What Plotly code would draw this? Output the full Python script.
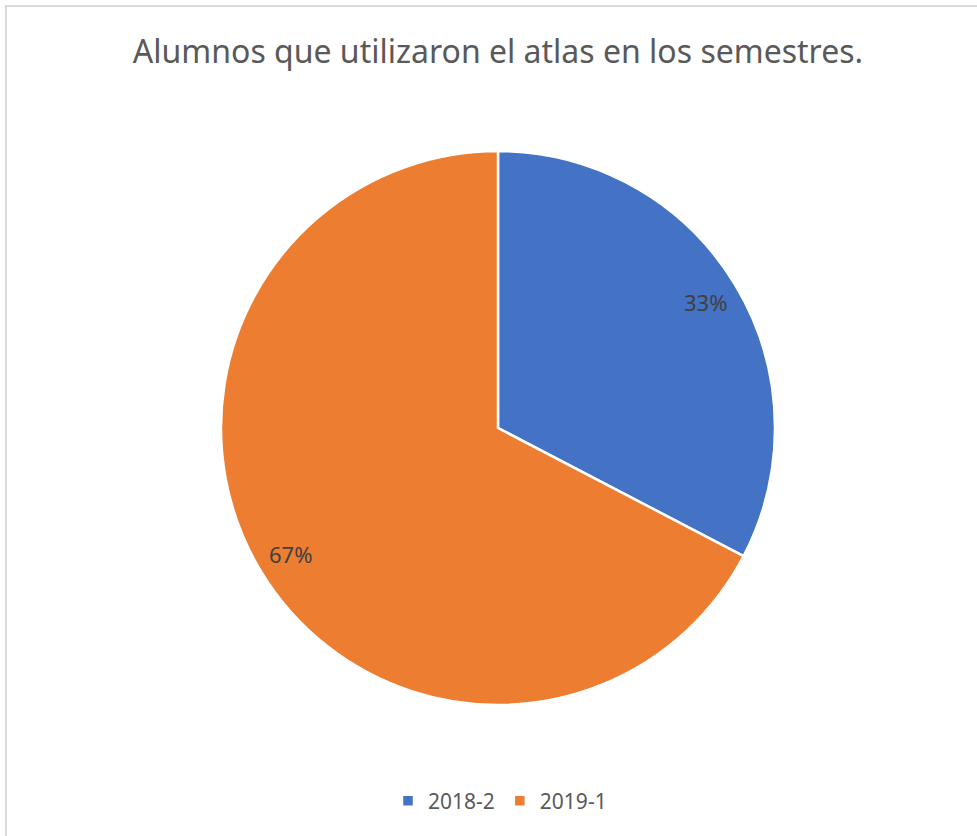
import numpy as np
import plotly.graph_objects as go

W, H = 977, 836

semestres = ["2018-2", "2019-1"]
alumnos = [16, 33]
colores = ["#4472C4", "#ED7D31"]

titulo = "Alumnos que utilizaron el atlas en los semestres."

# pie placement (pixels in the page)
cx, cy, rad = 498, 428, 277

fig = go.Figure()

fig.add_trace(
    go.Pie(
        labels=semestres,
        values=alumnos,
        marker=dict(colors=colores, line=dict(color="white", width=2.5)),
        sort=False,
        direction="clockwise",
        rotation=0,
        textinfo="none",
        hoverinfo="label+percent",
        domain=dict(x=[(cx - rad) / W, (cx + rad) / W], y=[1 - (cy + rad) / H, 1 - (cy - rad) / H]),
    )
)

# percentage labels placed like Excel, near the outer part of each slice
vals = np.array(alumnos, dtype=float)
frac = vals / vals.sum()
mid = np.cumsum(frac) - frac / 2
annotations = []
for f, m in zip(frac, mid):
    ang = 2 * np.pi * m
    px = cx + 0.875 * rad * np.sin(ang)
    py = cy - 0.875 * rad * np.cos(ang)
    annotations.append(
        dict(
            text=f"{f:.0%}",
            x=px / W,
            y=1 - py / H,
            xref="paper",
            yref="paper",
            xanchor="center",
            yanchor="middle",
            showarrow=False,
            font=dict(family="Noto Sans", size=22, color="#404040"),
        )
    )

fig.update_layout(
    width=W,
    height=H,
    margin=dict(l=0, r=0, t=0, b=0),
    paper_bgcolor="white",
    plot_bgcolor="white",
    font=dict(family="Noto Sans", color="#595959"),
    title=dict(
        text=titulo,
        x=498 / W,
        xanchor="center",
        y=1 - 52 / H,
        yanchor="middle",
        font=dict(family="Noto Sans", size=32, color="#595959"),
    ),
    legend=dict(
        orientation="h",
        x=500 / W,
        xanchor="center",
        y=1 - 801 / H,
        yanchor="middle",
        font=dict(family="Noto Sans", size=21, color="#595959"),
        itemwidth=30,
    ),
    annotations=annotations,
    shapes=[
        dict(
            type="rect",
            xref="paper",
            yref="paper",
            x0=6 / W,
            x1=1.05,
            y0=-0.05,
            y1=1 - 6 / H,
            line=dict(color="#D9D9D9", width=2),
            fillcolor="rgba(0,0,0,0)",
            layer="below",
        )
    ],
)

fig.write_html(
    "out.html",
    config={"displayModeBar": False},
    post_script="document.body.style.margin='0px';",
)
